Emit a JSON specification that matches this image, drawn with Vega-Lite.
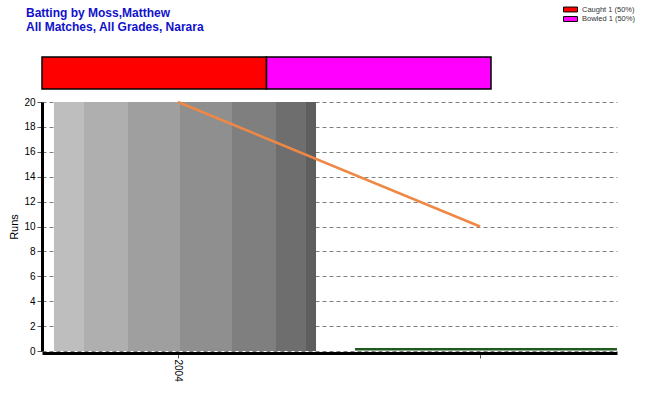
{
  "$schema": "https://vega.github.io/schema/vega-lite/v6.json",
  "background": "white",
  "padding": {"left": 8, "top": 5, "right": 5, "bottom": 5},
  "config": {
    "view": {"stroke": null},
    "font": "Liberation Sans",
    "axis": {"labelFont": "Liberation Sans", "titleFont": "Liberation Sans"},
    "axisY": {
      "values": [0, 2, 4, 6, 8, 10, 12, 14, 16, 18, 20],
      "titleFontSize": 11,
      "titleFontWeight": "normal",
      "titleColor": "black",
      "titlePadding": 4,
      "grid": true,
      "gridColor": "#808080",
      "gridDash": [4, 3],
      "domainColor": "black",
      "domainWidth": 3,
      "tickColor": "#555555",
      "tickSize": 5,
      "labelFontSize": 10,
      "labelColor": "black",
      "labelPadding": 2,
      "labelFlush": false,
      "labelOverlap": false
    }
  },
  "bounds": "flush",
  "spacing": 13,
  "vconcat": [
    {
      "width": 449,
      "height": 32,
      "title": {
        "text": ["Batting by Moss,Matthew", "All Matches, All Grades, Narara"],
        "anchor": "start",
        "frame": "group",
        "color": "#1111CC",
        "font": "Liberation Sans",
        "fontSize": 12,
        "fontWeight": "bold",
        "lineHeight": 14,
        "offset": 22,
        "dx": -16
      },
      "data": {
        "values": [
          {"group": "Dismissals", "type": "Caught 1 (50%)", "count": 1},
          {"group": "Dismissals", "type": "Bowled 1 (50%)", "count": 1}
        ]
      },
      "mark": {"type": "bar", "stroke": "black", "strokeWidth": 1.5},
      "encoding": {
        "x": {"field": "count", "type": "quantitative", "stack": "normalize", "axis": null, "scale": {"nice": false}},
        "y": {"field": "group", "type": "nominal", "axis": null, "scale": {"paddingInner": 0, "paddingOuter": 0}},
        "color": {
          "field": "type",
          "type": "nominal",
          "scale": {"domain": ["Caught 1 (50%)", "Bowled 1 (50%)"], "range": ["#FF0000", "#FF00FF"]},
          "legend": {
            "title": null,
            "orient": "none",
            "legendX": 524.5,
            "legendY": -51.5,
            "symbolType": "M-2,-0.7H2V0.7H-2Z",
            "symbolSize": 49,
            "symbolStrokeColor": "black",
            "symbolStrokeWidth": 1,
            "labelFont": "Liberation Sans",
            "labelFontSize": 7.5,
            "labelColor": "#333333",
            "labelOffset": 7.5,
            "rowPadding": -0.5
          }
        },
        "order": {"field": "type", "sort": "descending"}
      }
    },
    {
      "width": 575,
      "height": 249,
      "layer": [
        {
          "data": {
            "values": [
              {"band": 1, "x0": -0.4106, "x1": -0.3113},
              {"band": 2, "x0": -0.3113, "x1": -0.1656},
              {"band": 3, "x0": -0.1656, "x1": 0.0066},
              {"band": 4, "x0": 0.0066, "x1": 0.1788},
              {"band": 5, "x0": 0.1788, "x1": 0.3245},
              {"band": 6, "x0": 0.3245, "x1": 0.4238},
              {"band": 7, "x0": 0.4238, "x1": 0.457}
            ]
          },
          "mark": {"type": "rect"},
          "encoding": {
            "x": {
              "field": "x0",
              "type": "quantitative",
              "scale": {"domain": [-0.4503, 1.4536], "nice": false, "zero": false},
              "axis": {
                "values": [0, 1],
                "labelExpr": "datum.value == 0 ? '2004' : ''",
                "labelAngle": 90,
                "title": null,
                "grid": false,
                "domainColor": "black",
                "domainWidth": 3,
                "tickColor": "#555555",
                "tickSize": 5,
                "labelFontSize": 10,
                "labelColor": "black",
                "labelFlush": false,
                "labelOverlap": false,
                "labelPadding": 1,
                "offset": 2
              }
            },
            "x2": {"field": "x1"},
            "y": {
              "datum": 0,
              "type": "quantitative",
              "scale": {"domain": [0, 20], "nice": false},
              "axis": {"title": "Runs", "values": [0, 2, 4, 6, 8, 10, 12, 14, 16, 18, 20], "tickCount": 11}
            },
            "y2": {"datum": 20},
            "fill": {
              "field": "band",
              "type": "ordinal",
              "scale": {"domain": [1, 2, 3, 4, 5, 6, 7], "range": ["#BEBEBE", "#AFAFAF", "#9F9F9F", "#8F8F8F", "#7F7F7F", "#6E6E6E", "#5E5E5E"]},
              "legend": null
            }
          }
        },
        {
          "data": {"values": [{"x": 0, "runs": 20}, {"x": 1, "runs": 10}]},
          "mark": {"type": "line", "color": "#EE8844", "strokeWidth": 2.5},
          "encoding": {
            "x": {"field": "x", "type": "quantitative"},
            "y": {"field": "runs", "type": "quantitative", "axis": {"title": "Runs", "values": [0, 2, 4, 6, 8, 10, 12, 14, 16, 18, 20], "tickCount": 11}}
          }
        },
        {
          "data": {"values": [{"x": 0.586, "runs": 0.15}, {"x": 1.4536, "runs": 0.15}]},
          "mark": {"type": "line", "color": "#1F5A1F", "strokeWidth": 2.5},
          "encoding": {
            "x": {"field": "x", "type": "quantitative"},
            "y": {"field": "runs", "type": "quantitative", "axis": {"title": "Runs", "values": [0, 2, 4, 6, 8, 10, 12, 14, 16, 18, 20], "tickCount": 11}}
          }
        }
      ]
    }
  ]
}
